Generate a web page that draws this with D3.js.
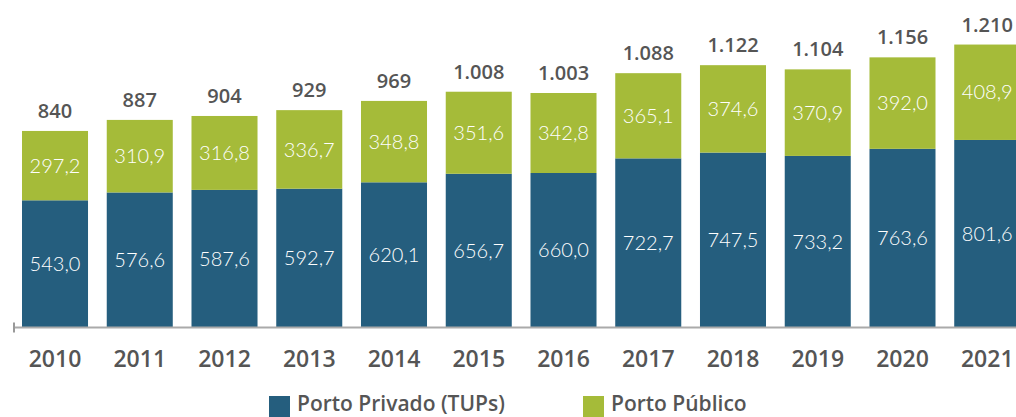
<!DOCTYPE html>
<html><head><meta charset="utf-8">
<script src="https://cdn.jsdelivr.net/npm/d3@7"></script>
<style>body{margin:0;background:#fff}svg{display:block}</style>
</head><body><svg id="c" width="1016" height="417"></svg>
<script>
const years = ["2010","2011","2012","2013","2014","2015","2016","2017","2018","2019","2020","2021"];
const privado = [543.0,576.6,587.6,592.7,620.1,656.7,660.0,722.7,747.5,733.2,763.6,801.6];
const publico = [297.2,310.9,316.8,336.7,348.8,351.6,342.8,365.1,374.6,370.9,392.0,408.9];
const totals = ["840","887","904","929","969","1.008","1.003","1.088","1.122","1.104","1.156","1.210"];
const seriesNames = ["Porto Privado (TUPs)","Porto Público"];
const colors = ["#255e7e","#a5bb39"];

const svg = d3.select("#c");
const boldFont = "'Open Sans', Lato, sans-serif";
const lightFont = "Lato, 'Open Sans', sans-serif";
const x = d3.scaleBand().domain(years).range([22, 1020.25]).paddingInner(0.221).paddingOuter(0);
const y = d3.scaleLinear().domain([0,1400]).range([327,0.33]);
const fmt = v => v.toFixed(1).replace(".", ",");

const data = years.map((yr,i)=>({year:yr, a:privado[i], b:publico[i], t:totals[i]}));
const stack = d3.stack().keys(["a","b"])(data);

const g = svg.append("g");
stack.forEach((layer,li)=>{
  g.selectAll(null).data(layer).enter().append("rect")
    .attr("x", d=>x(d.data.year)).attr("width", x.bandwidth())
    .attr("y", d=>y(d[1])).attr("height", d=>y(d[0])-y(d[1]))
    .attr("fill", colors[li]);
  g.selectAll(null).data(layer).enter().append("text")
    .attr("x", d=>x(d.data.year)+x.bandwidth()/2)
    .attr("y", d=>(y(d[0])+y(d[1]))/2)
    .attr("dy","0.36em").attr("text-anchor","middle")
    .attr("fill","#fff").attr("font-family",lightFont).attr("font-weight",300)
    .attr("font-size","20px")
    .text(d=>fmt(d[1]-d[0]));
});
g.selectAll(null).data(data).enter().append("text")
  .attr("x", d=>x(d.year)+x.bandwidth()/2)
  .attr("y", d=>y(d.a+d.b)-13)
  .attr("text-anchor","middle").attr("fill","#555")
  .attr("font-family",boldFont).attr("font-weight",600).attr("font-size","20px")
  .text(d=>d.t);

// axis
const ax = svg.append("g").attr("transform","translate(0,327.5)")
  .call(d3.axisBottom(x).tickSize(0).tickPadding(0));
ax.select(".domain").remove();
ax.append("line").attr("x1",14).attr("x2",1016).attr("y1",0).attr("y2",0).attr("stroke","#aaa").attr("stroke-width",2);
ax.append("line").attr("x1",14).attr("x2",14).attr("y1",-5).attr("y2",5).attr("stroke","#999").attr("stroke-width",2);
ax.selectAll(".tick text").attr("y",39).attr("dy",null).attr("fill","#555").attr("font-family",boldFont).attr("font-weight",600).attr("font-size","23px");

// legend
const lg = svg.append("g");
const lx = [269, 583];
seriesNames.forEach((n,i)=>{
  lg.append("rect").attr("x",lx[i]).attr("y",396).attr("width",21).attr("height",21).attr("fill",colors[i]);
  lg.append("text").attr("x",lx[i]+28).attr("y",411).attr("fill","#555")
    .attr("font-family",boldFont).attr("font-weight",600).attr("font-size","21px").text(n);
});
</script></body></html>
